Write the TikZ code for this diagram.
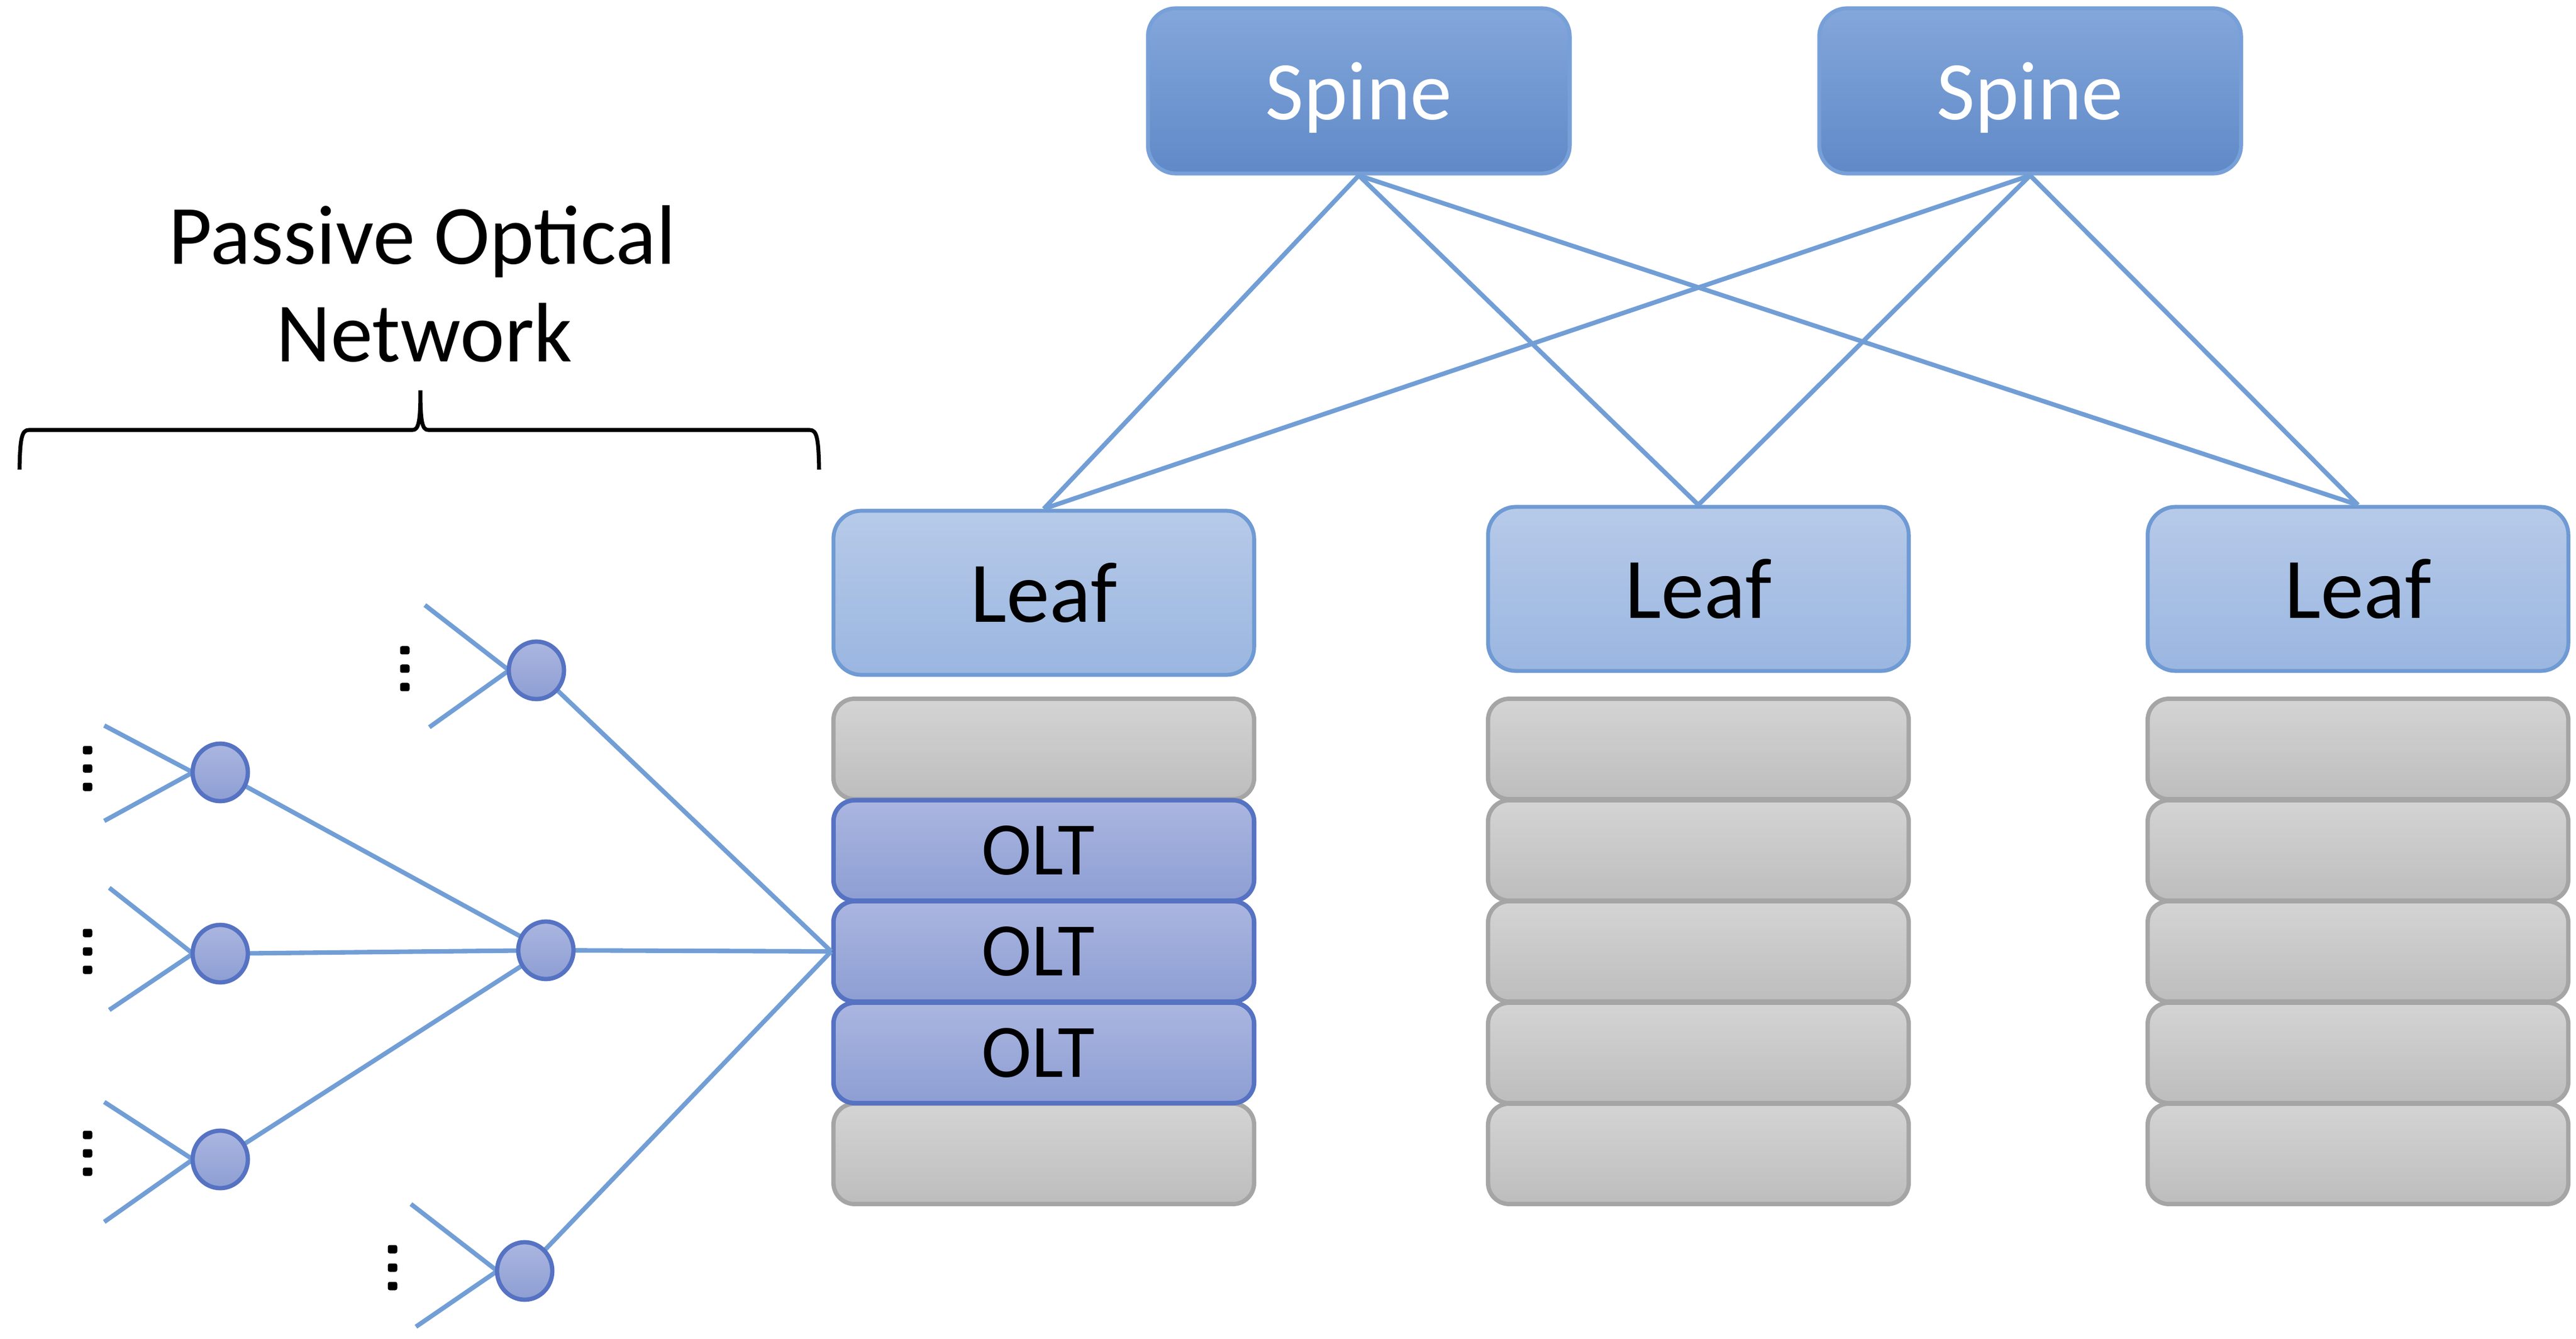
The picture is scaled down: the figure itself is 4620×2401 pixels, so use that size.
\documentclass[tikz,border=0pt]{standalone}
\usepackage{fontspec}
\setmainfont{Carlito}
\usetikzlibrary{shapes.geometric}
\definecolor{linkblue}{HTML}{729ED6}
\definecolor{spinetop}{HTML}{84A7DB}
\definecolor{spinebot}{HTML}{5F89C7}
\definecolor{spineline}{HTML}{78A0D8}
\definecolor{leaftop}{HTML}{B7CAE9}
\definecolor{leafbot}{HTML}{9AB6E0}
\definecolor{leafline}{HTML}{6F9AD3}
\definecolor{graytop}{HTML}{D4D4D4}
\definecolor{graybot}{HTML}{BDBDBD}
\definecolor{grayline}{HTML}{A5A5A5}
\definecolor{olttop}{HTML}{ABB6E0}
\definecolor{oltbot}{HTML}{8D9ED3}
\definecolor{oltline}{HTML}{5672C2}
\begin{document}
\begin{tikzpicture}[x=0.01cm,y=-0.01cm,
  spinebox/.style={draw=spineline, line width=2pt, rounded corners=0.5cm,
    top color=spinetop, bottom color=spinebot, minimum width=7.56cm,
    minimum height=2.96cm, inner sep=0pt, text=white,
    font=\fontsize{42.5}{50}\selectfont, text depth=0pt},
  leafbox/.style={draw=leafline, line width=2pt, rounded corners=0.5cm,
    top color=leaftop, bottom color=leafbot, minimum width=7.54cm,
    minimum height=2.94cm, inner sep=0pt, font=\fontsize{44}{50}\selectfont},
  graybox/.style={draw=grayline, line width=2.2pt, rounded corners=0.38cm,
    top color=graytop, bottom color=graybot, minimum width=7.54cm,
    minimum height=1.80cm, inner sep=0pt},
  oltbox/.style={draw=oltline, line width=2.3pt, rounded corners=0.38cm,
    top color=olttop, bottom color=oltbot, minimum width=7.54cm,
    minimum height=1.80cm, inner sep=0pt},
  olttext/.style={font=\fontsize{38.5}{42}\selectfont, inner sep=0pt},
  splitter/.style={ellipse, draw=oltline, line width=2.2pt, top color=olttop,
    bottom color=oltbot, minimum width=0.99cm, minimum height=1.03cm, inner sep=0pt},
  fiber/.style={draw=linkblue, line width=2.3pt},
  dotmark/.style={fill=black, rounded corners=0.035cm},
  bracestyle/.style={draw=black, line width=2pt},
  ponlabel/.style={font=\fontsize{43}{50}\selectfont, inner sep=0pt, anchor=base}
]
\useasboundingbox (0,0) rectangle (4620,2401);

% ---------- spine / leaf ----------
\node[spinebox] (s1) at (2437,163) {Spine};
\node[spinebox] (s2) at (3641,163) {Spine};
\node[leafbox] (l1) at (1872,1063) {Leaf};
\node[leafbox] (l2) at (3046,1056) {Leaf};
\node[leafbox] (l3) at (4229,1056) {Leaf};

\foreach \s in {s1,s2}{
  \foreach \l in {l1,l2,l3}{
    \draw[fiber] (\s.south) -- (\l.north);
  }
}

% ---------- stacks ----------
% stack 1
\node[graybox] (g11) at (1872,1343) {};
\node[graybox] (g15) at (1872,2069) {};
\node[oltbox] (o1) at (1872,1525) {};
\node[oltbox] (o2) at (1872,1706) {};
\node[oltbox] (o3) at (1872,1888) {};
\node[olttext] (t1) at (1862,1525) {OLT};
\node[olttext] (t2) at (1862,1706) {OLT};
\node[olttext] (t3) at (1862,1888) {OLT};
% stack 2
\node[graybox] (g21) at (3046,1343) {};
\node[graybox] (g22) at (3046,1525) {};
\node[graybox] (g23) at (3046,1706) {};
\node[graybox] (g24) at (3046,1888) {};
\node[graybox] (g25) at (3046,2069) {};
% stack 3
\node[graybox] (g31) at (4229,1343) {};
\node[graybox] (g32) at (4229,1525) {};
\node[graybox] (g33) at (4229,1706) {};
\node[graybox] (g34) at (4229,1888) {};
\node[graybox] (g35) at (4229,2069) {};

% ---------- passive optical network ----------
\coordinate (pA) at (962,1202);
\coordinate (pB) at (395,1385);
\coordinate (pC) at (979,1704);
\coordinate (pD) at (395,1710);
\coordinate (pE) at (395,2079);
\coordinate (pF) at (941,2279);

% fan-out end points
\coordinate (a1) at (762,1085);  \coordinate (a2) at (770,1304);
\coordinate (b1) at (187,1301);  \coordinate (b2) at (187,1472);
\coordinate (d1) at (196,1592);  \coordinate (d2) at (196,1811);
\coordinate (e1) at (187,1976);  \coordinate (e2) at (187,2191);
\coordinate (f1) at (737,2159);  \coordinate (f2) at (746,2379);

\draw[fiber] (pA) -- (o2.west);
\draw[fiber] (pC) -- (o2.west);
\draw[fiber] (pF) -- (o2.west);
\draw[fiber] (pB) -- (pC);
\draw[fiber] (pD) -- (pC);
\draw[fiber] (pE) -- (pC);

\foreach \c/\u/\v in {pA/a1/a2, pB/b1/b2, pD/d1/d2, pE/e1/e2, pF/f1/f2}{
  \draw[fiber] (\u) -- ([xshift=-0.49cm]\c) -- (\v);
}

\node[splitter] (nA) at (pA) {};
\node[splitter] (nB) at (pB) {};
\node[splitter] (nC) at (pC) {};
\node[splitter] (nD) at (pD) {};
\node[splitter] (nE) at (pE) {};
\node[splitter] (nF) at (pF) {};

% vertical dots
\foreach \x/\y in {726/1199, 157/1378, 157/1706, 157/2068, 704/2273}{
  \foreach \k in {-33,0,33}{
    \fill[dotmark] (\x-8.5,\y+\k-7.5) rectangle (\x+8.5,\y+\k+7.5);
  }
}

% brace
\draw[bracestyle] (35,842) .. controls (36,785) and (39,771) .. (52,771)
  -- (740,771) .. controls (751,771) and (754,755) .. (754,700)
  .. controls (754,755) and (757,771) .. (768,771)
  -- (1452,771) .. controls (1465,771) and (1468,785) .. (1469,842);

\node[ponlabel] (pon1) at (757,474) {Passive Optical};
\node[ponlabel] (pon2) at (761,649) {Network};
\end{tikzpicture}
\end{document}
